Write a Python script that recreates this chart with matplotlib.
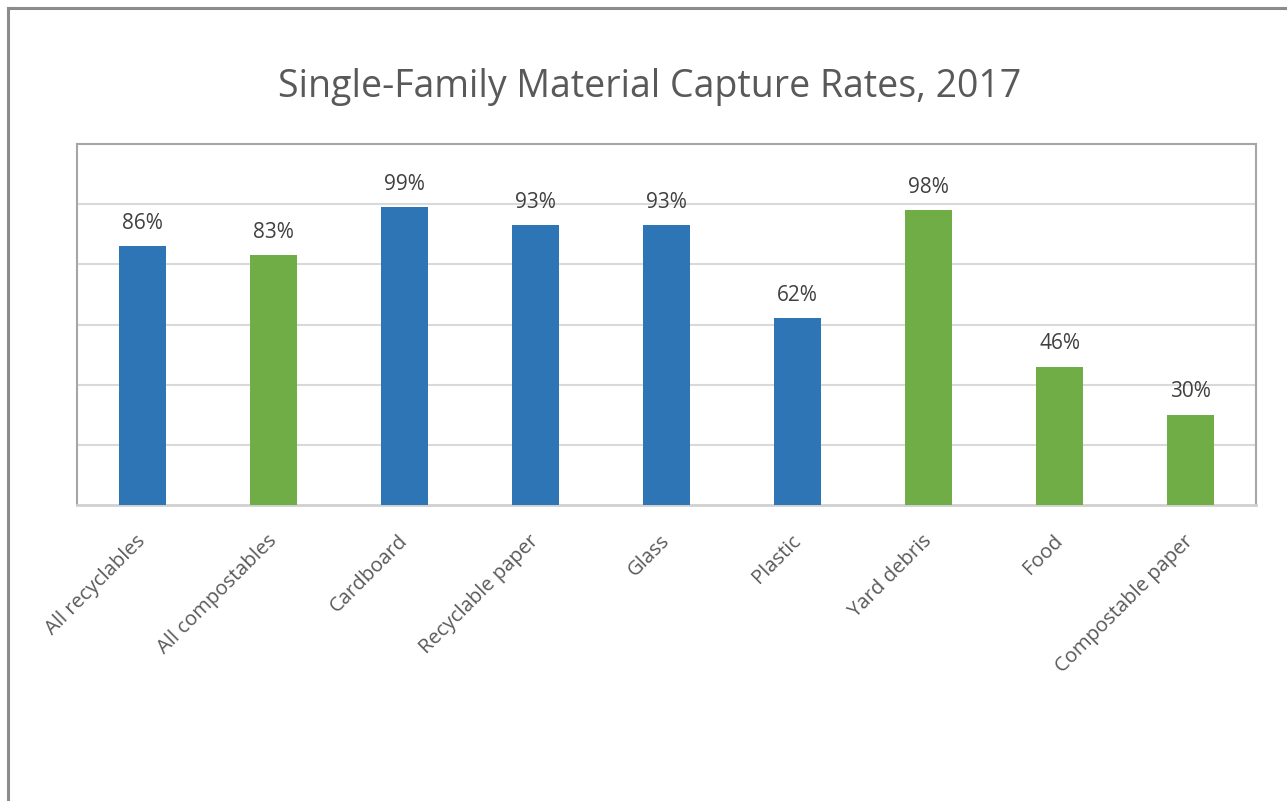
import matplotlib
matplotlib.use("Agg")
import matplotlib.pyplot as plt
from matplotlib.lines import Line2D

categories = ["All recyclables", "All compostables", "Cardboard", "Recyclable paper",
              "Glass", "Plastic", "Yard debris", "Food", "Compostable paper"]
values = [0.86, 0.83, 0.99, 0.93, 0.93, 0.62, 0.98, 0.46, 0.30]
groups = ["recycle", "compost", "recycle", "recycle", "recycle", "recycle",
          "compost", "compost", "compost"]
labels = ["86%", "83%", "99%", "93%", "93%", "62%", "98%", "46%", "30%"]
title = "Single-Family Material Capture Rates, 2017"

colors = {"recycle": "#2E75B6", "compost": "#70AD47"}

plt.rcParams['font.family'] = ['Open Sans', 'DejaVu Sans']

W, H = 1287, 801
fig = plt.figure(figsize=(W / 100, H / 100), dpi=100)
ax = fig.add_axes([77 / W, 1 - 505 / H, (1256 - 77) / W, (505 - 144) / H])

x = list(range(len(categories)))
ax.bar(x, values, width=0.36, color=[colors[g] for g in groups], zorder=3)
ax.set_xlim(-0.5, len(categories) - 0.5)
ax.set_ylim(0, 1.2)
ax.set_yticks([0.2, 0.4, 0.6, 0.8, 1.0])
ax.yaxis.grid(True, color="#D9D9D9", linewidth=1.5, zorder=0)
ax.tick_params(axis='y', length=0, labelleft=False)
ax.tick_params(axis='x', length=0, pad=24)
ax.set_xticks(x)
ax.set_xticklabels(categories, rotation=45, ha='right', va='center',
                   rotation_mode='anchor', fontsize=14.6, color="#595959")

for s in ['top', 'left', 'right']:
    ax.spines[s].set_color("#A6A6A6")
    ax.spines[s].set_linewidth(1.5)
ax.spines['bottom'].set_color("#D0D0D0")
ax.spines['bottom'].set_linewidth(2)

for xi, v, lab in zip(x, values, labels):
    ax.annotate(lab, (xi, v), xytext=(0, 9), textcoords='offset points',
                ha='center', va='bottom', fontsize=15, color="#404040")

fig.text(650 / W, 1 - 87 / H, title, ha='center', va='center', fontsize=27, color="#595959")

# outer chart frame
fig.add_artist(Line2D([8 / W, 1.0], [1 - 8 / H, 1 - 8 / H], transform=fig.transFigure,
                      color="#8C8C8C", linewidth=2.2))
fig.add_artist(Line2D([8 / W, 8 / W], [1 - 8 / H, 0.0], transform=fig.transFigure,
                      color="#8C8C8C", linewidth=2.2))

fig.savefig("out.png", dpi=100)
